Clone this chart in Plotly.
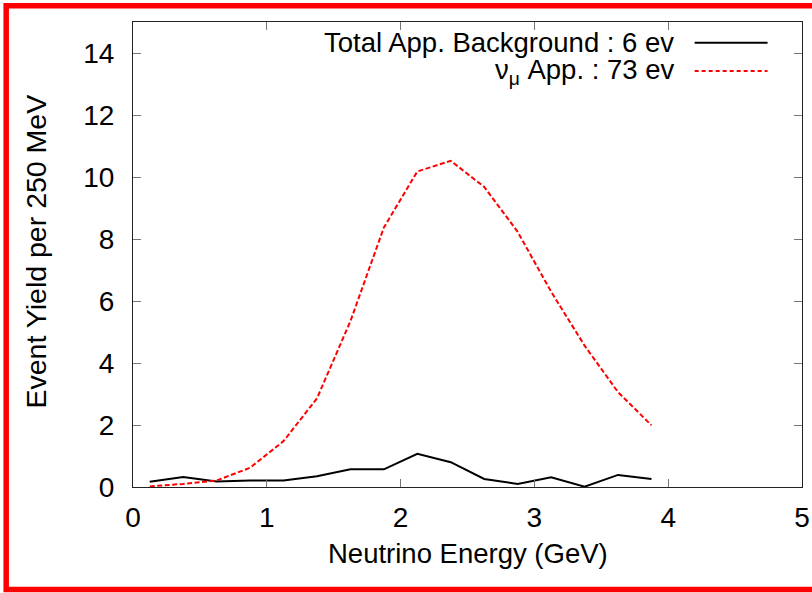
import plotly.graph_objects as go

# Bin centres (GeV), 250 MeV bins
energy = [0.125, 0.375, 0.625, 0.875, 1.125, 1.375, 1.625, 1.875,
          2.125, 2.375, 2.625, 2.875, 3.125, 3.375, 3.625, 3.875]

background = [0.17, 0.32, 0.18, 0.21, 0.21, 0.35, 0.57, 0.57,
              1.07, 0.80, 0.26, 0.10, 0.31, 0.01, 0.39, 0.26]

numu_app = [0.02, 0.10, 0.21, 0.62, 1.48, 2.86, 5.35, 8.37,
            10.18, 10.52, 9.68, 8.23, 6.30, 4.56, 3.06, 1.99]

legend_labels = ["Total App. Background : 6 ev", "ν<sub>μ</sub> App. : 73 ev"]
x_title = "Neutrino Energy (GeV)"
y_title = "Event Yield per 250 MeV"
x_ticks = [0, 1, 2, 3, 4, 5]
y_ticks = [0, 2, 4, 6, 8, 10, 12, 14]

W, H = 812, 593
L, R, T, B = 132.5, 802.5, 22, 487.3
FONT = "Liberation Sans, Arial, Helvetica, sans-serif"
FS = 27.5


def px(x):
    return (x - L) / (R - L)


def py(y):
    return (B - y) / (B - T)


fig = go.Figure()
fig.add_trace(go.Scatter(x=energy, y=background, mode="lines",
                         line=dict(color="black", width=2), showlegend=False))
fig.add_trace(go.Scatter(x=energy, y=numu_app, mode="lines",
                         line=dict(color="#ff0000", width=2, dash="5px,2.5px"),
                         showlegend=False))

axis_common = dict(showline=True, linecolor="#222", linewidth=1, mirror="ticks",
                   ticks="inside", ticklen=8, tickcolor="#777", tickwidth=1,
                   showgrid=False, zeroline=False, automargin=False,
                   tickfont=dict(family=FONT, size=28, color="black"))

fig.update_xaxes(range=[0, 5], tickvals=x_ticks, ticklabelstandoff=5, **axis_common)
fig.update_yaxes(range=[0, 15], tickvals=y_ticks, ticklabelstandoff=12, **axis_common)

annotations = [
    dict(text=x_title, x=px(467.5), y=py(554), xref="paper", yref="paper",
         showarrow=False, xanchor="center", yanchor="middle",
         font=dict(family=FONT, size=FS, color="black")),
    dict(text=y_title, x=px(35), y=py(252), xref="paper", yref="paper",
         showarrow=False, xanchor="center", yanchor="middle", textangle=-90,
         font=dict(family=FONT, size=28.5, color="black")),
    dict(text=legend_labels[0], x=px(676), y=py(42.5), xref="paper", yref="paper",
         showarrow=False, xanchor="right", yanchor="middle",
         font=dict(family=FONT, size=FS, color="black")),
    dict(text=legend_labels[1], x=px(676), y=py(71.5), xref="paper", yref="paper",
         showarrow=False, xanchor="right", yanchor="middle",
         font=dict(family=FONT, size=FS, color="black")),
]

shapes = [
    dict(type="line", xref="paper", yref="paper", x0=px(695), x1=px(768),
         y0=py(42.7), y1=py(42.7), line=dict(color="black", width=2)),
    dict(type="line", xref="paper", yref="paper", x0=px(695), x1=px(768),
         y0=py(71), y1=py(71), line=dict(color="#ff0000", width=2, dash="4px,3px")),
    # red frame around the figure
    dict(type="rect", xref="paper", yref="paper", x0=px(5.5), x1=px(830),
         y0=py(589.8), y1=py(5.8), line=dict(color="#ff0000", width=5.5),
         fillcolor="rgba(0,0,0,0)", layer="above"),
]

fig.update_layout(width=W, height=H,
                  margin=dict(l=L, r=W - R, t=T, b=H - B, pad=0, autoexpand=False),
                  paper_bgcolor="white", plot_bgcolor="white",
                  font=dict(family=FONT, size=FS, color="black"),
                  annotations=annotations, shapes=shapes, showlegend=False)

fig.write_html("out.html", config={"displayModeBar": False},
               post_script="document.body.style.margin='0';document.body.style.padding='0';")
